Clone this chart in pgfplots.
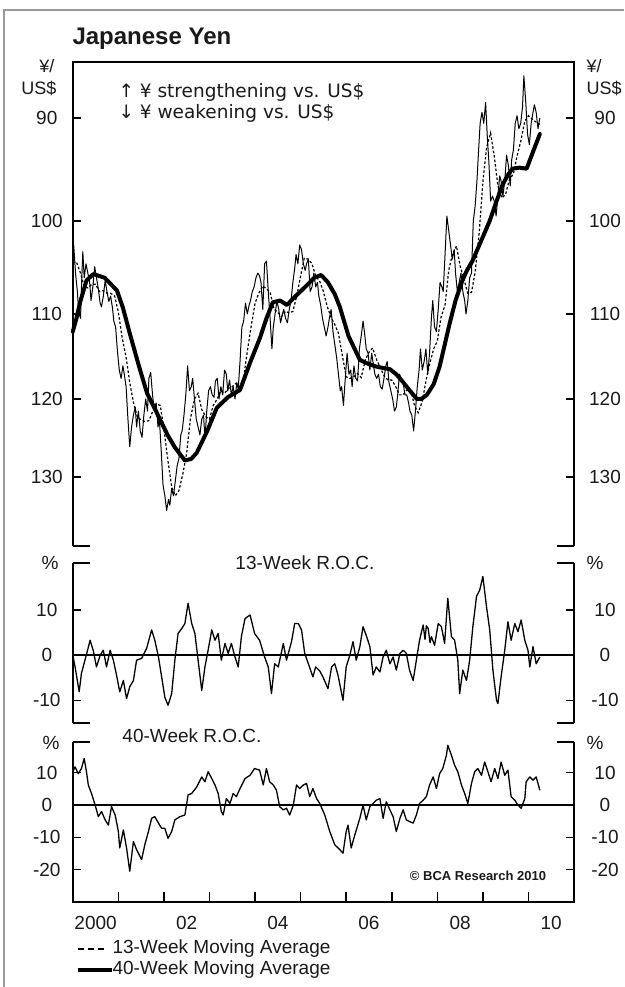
\documentclass[border=0pt]{standalone}
\usepackage{pgfplots}
\usepackage{pgfplotstable}
\pgfplotsset{compat=1.18}
\usepackage{fontspec}
\setmainfont{Liberation Sans}
\newfontfamily\dejavu{DejaVu Sans}
\newcommand{\lab}{\fontsize{19}{19}\selectfont}
\definecolor{txt}{HTML}{1A1A1A}
\tikzset{fr/.style={line width=1.6pt, black}}

\pgfplotstableread{
x y
2000.00 105.0
2000.02 102.5
2000.06 105.5
2000.10 107.5
2000.13 109.8
2000.17 110.5
2000.19 107.0
2000.22 103.2
2000.25 106.0
2000.29 104.5
2000.33 105.5
2000.37 106.5
2000.40 108.5
2000.44 107.0
2000.48 104.8
2000.52 106.0
2000.56 107.2
2000.60 108.8
2000.63 109.2
2000.67 108.0
2000.71 106.3
2000.75 107.5
2000.79 108.6
2000.83 108.0
2000.87 109.3
2000.90 110.8
2000.94 111.5
2000.98 114.3
2001.02 116.5
2001.06 117.5
2001.10 116.0
2001.13 117.0
2001.17 118.5
2001.21 122.5
2001.25 126.0
2001.29 123.5
2001.33 122.0
2001.37 121.0
2001.40 123.5
2001.44 121.5
2001.48 124.0
2001.52 124.8
2001.56 122.0
2001.60 120.0
2001.64 121.5
2001.67 117.5
2001.71 116.8
2001.75 119.5
2001.79 121.5
2001.83 120.5
2001.87 123.5
2001.90 122.5
2001.94 126.5
2001.98 131.0
2002.02 132.5
2002.06 134.5
2002.10 133.0
2002.13 133.8
2002.17 131.5
2002.21 132.5
2002.25 130.5
2002.29 128.5
2002.33 127.5
2002.37 124.5
2002.40 124.0
2002.44 122.0
2002.48 119.5
2002.52 116.0
2002.56 119.0
2002.60 118.5
2002.63 117.5
2002.67 120.0
2002.71 122.5
2002.75 123.5
2002.79 124.5
2002.83 122.5
2002.87 122.0
2002.90 125.0
2002.94 121.5
2002.98 119.0
2003.02 118.5
2003.06 119.5
2003.10 119.8
2003.13 117.8
2003.17 117.5
2003.21 120.0
2003.25 118.5
2003.29 119.5
2003.33 116.5
2003.37 117.0
2003.40 119.0
2003.44 117.7
2003.48 119.5
2003.52 118.5
2003.56 120.0
2003.60 118.0
2003.63 118.8
2003.67 115.5
2003.71 111.5
2003.75 110.8
2003.79 108.8
2003.83 110.0
2003.87 109.0
2003.90 108.5
2003.94 107.5
2003.98 107.0
2004.02 106.0
2004.06 105.5
2004.10 105.8
2004.13 106.5
2004.17 109.5
2004.21 104.5
2004.25 104.2
2004.29 107.5
2004.33 110.5
2004.37 114.0
2004.40 111.5
2004.44 110.0
2004.48 108.5
2004.52 109.5
2004.56 111.0
2004.60 110.0
2004.63 109.5
2004.67 110.5
2004.71 111.0
2004.75 109.5
2004.79 108.5
2004.83 106.5
2004.87 105.0
2004.90 103.5
2004.94 104.5
2004.98 102.5
2005.02 103.0
2005.06 104.5
2005.10 105.2
2005.13 104.5
2005.17 104.0
2005.21 107.5
2005.25 107.0
2005.29 105.5
2005.33 107.0
2005.37 106.5
2005.40 108.0
2005.44 109.0
2005.48 110.5
2005.52 111.5
2005.56 112.5
2005.60 111.5
2005.63 110.5
2005.67 109.5
2005.71 112.0
2005.75 113.5
2005.79 115.0
2005.83 117.0
2005.87 119.0
2005.90 118.5
2005.94 120.8
2005.98 117.5
2006.02 114.5
2006.06 117.0
2006.10 116.5
2006.13 118.5
2006.17 116.0
2006.21 117.5
2006.25 117.8
2006.29 114.0
2006.33 112.5
2006.37 110.8
2006.40 112.0
2006.44 114.0
2006.48 114.5
2006.52 116.5
2006.56 114.5
2006.60 116.0
2006.63 117.0
2006.67 117.5
2006.71 117.0
2006.75 118.5
2006.79 118.8
2006.83 117.5
2006.87 116.0
2006.90 115.5
2006.94 118.0
2006.98 119.0
2007.02 120.0
2007.06 121.5
2007.10 121.0
2007.13 119.5
2007.17 117.0
2007.21 117.5
2007.25 118.0
2007.29 119.5
2007.33 119.5
2007.37 120.5
2007.40 121.5
2007.44 122.0
2007.48 124.0
2007.52 121.5
2007.56 118.5
2007.60 116.5
2007.63 114.0
2007.67 116.5
2007.71 115.5
2007.75 114.0
2007.79 117.0
2007.83 114.5
2007.87 110.5
2007.90 108.5
2007.94 111.5
2007.98 112.0
2008.02 109.5
2008.06 106.5
2008.10 107.0
2008.13 107.5
2008.17 103.5
2008.21 99.5
2008.25 101.0
2008.29 102.5
2008.33 104.0
2008.37 103.0
2008.40 105.5
2008.44 107.5
2008.48 106.5
2008.52 105.5
2008.56 107.5
2008.60 108.5
2008.63 110.0
2008.67 108.5
2008.71 106.0
2008.75 105.5
2008.79 100.0
2008.83 98.5
2008.87 96.0
2008.90 93.5
2008.94 90.5
2008.98 89.5
2009.02 90.5
2009.06 88.6
2009.10 92.0
2009.13 94.0
2009.17 98.0
2009.21 97.5
2009.25 98.0
2009.29 99.5
2009.33 97.5
2009.37 95.5
2009.40 96.0
2009.44 97.5
2009.48 96.0
2009.52 93.5
2009.56 94.5
2009.60 96.5
2009.63 94.0
2009.67 93.0
2009.71 90.5
2009.75 89.8
2009.79 91.0
2009.83 90.5
2009.87 89.0
2009.90 86.2
2009.94 88.5
2009.98 91.5
2010.02 92.5
2010.06 90.5
2010.10 89.5
2010.13 88.8
2010.17 89.5
2010.21 91.0
2010.25 90.0
}\spot

\pgfplotstableread{
x y
2000.00 104.4
2000.08 104.3
2000.17 105.5
2000.25 107.0
2000.33 107.1
2000.42 106.7
2000.50 106.7
2000.58 107.5
2000.67 107.4
2000.75 107.7
2000.83 107.7
2000.92 108.0
2001.00 109.8
2001.08 112.6
2001.17 115.0
2001.25 118.0
2001.33 120.4
2001.42 122.3
2001.50 122.6
2001.58 122.8
2001.67 122.7
2001.75 121.6
2001.83 120.6
2001.92 120.8
2002.00 123.7
2002.08 127.5
2002.17 131.3
2002.25 132.5
2002.33 131.8
2002.42 129.4
2002.50 126.8
2002.58 122.5
2002.67 120.0
2002.75 119.3
2002.83 121.3
2002.92 122.2
2003.00 122.5
2003.08 120.8
2003.17 120.0
2003.25 119.0
2003.33 119.3
2003.42 118.7
2003.50 118.5
2003.58 118.1
2003.67 118.6
2003.75 117.4
2003.83 114.3
2003.92 111.2
2004.00 108.8
2004.08 107.7
2004.17 106.9
2004.25 107.2
2004.33 107.6
2004.42 109.5
2004.50 109.8
2004.58 110.3
2004.67 109.7
2004.75 109.9
2004.83 109.7
2004.92 107.9
2005.00 105.8
2005.08 103.9
2005.17 104.0
2005.25 104.5
2005.33 105.8
2005.42 106.4
2005.50 107.5
2005.58 109.1
2005.67 110.4
2005.75 111.2
2005.83 112.2
2005.92 114.9
2006.00 117.3
2006.08 117.5
2006.17 117.3
2006.25 116.9
2006.33 117.4
2006.42 115.3
2006.50 114.4
2006.58 113.9
2006.67 115.3
2006.75 116.2
2006.83 117.2
2006.92 117.7
2007.00 117.7
2007.08 118.4
2007.17 119.5
2007.25 119.5
2007.33 118.9
2007.42 119.0
2007.50 120.8
2007.58 121.7
2007.67 120.3
2007.75 117.8
2007.83 115.8
2007.92 114.0
2008.00 113.1
2008.08 110.4
2008.17 109.0
2008.25 105.2
2008.33 103.5
2008.42 102.6
2008.50 104.7
2008.58 106.1
2008.67 107.7
2008.75 107.6
2008.83 105.4
2008.92 101.2
2009.00 96.1
2009.08 92.8
2009.17 91.4
2009.25 93.6
2009.33 96.5
2009.42 97.7
2009.50 97.3
2009.58 95.9
2009.67 95.3
2009.75 93.6
2009.83 92.2
2009.92 90.3
2010.00 89.8
2010.08 90.1
2010.17 90.4
2010.25 90.6
}\maa

\pgfplotstableread{
x y
2000.00 112.0
2000.08 110.5
2000.16 108.7
2000.30 106.3
2000.45 105.6
2000.70 106.0
2000.97 107.4
2001.10 109.3
2001.25 112.2
2001.45 116.0
2001.63 119.3
2001.80 121.2
2001.91 122.5
2002.08 124.5
2002.24 126.1
2002.46 127.8
2002.60 127.6
2002.72 126.8
2002.95 124.0
2003.16 121.1
2003.40 119.8
2003.67 118.9
2003.90 115.5
2004.11 112.7
2004.25 110.5
2004.39 108.7
2004.55 108.5
2004.70 109.0
2004.85 108.2
2005.10 107.0
2005.30 106.0
2005.45 105.7
2005.60 106.5
2005.75 107.8
2005.86 109.2
2006.05 112.5
2006.30 115.3
2006.50 115.8
2006.67 116.1
2006.85 116.3
2006.96 116.4
2007.10 117.0
2007.24 117.9
2007.40 119.0
2007.55 120.0
2007.65 120.0
2007.77 119.5
2007.92 118.2
2008.05 116.1
2008.15 113.8
2008.27 111.1
2008.40 108.5
2008.55 106.3
2008.65 105.2
2008.77 104.2
2008.95 102.2
2009.15 100.0
2009.30 98.0
2009.43 96.4
2009.55 95.4
2009.65 94.8
2009.80 94.7
2009.96 94.8
2010.09 93.3
2010.25 91.5
}\mab

\pgfplotstableread{
x y
2000.00 0
2000.05 -2.6
2000.14 -8.1
2000.19 -4
2000.27 -1
2000.38 3.3
2000.45 1
2000.52 -2.6
2000.60 0
2000.67 1.1
2000.74 -2.6
2000.82 1.1
2000.89 -1.1
2000.96 -4.4
2001.03 -8.1
2001.11 -5.6
2001.18 -9.6
2001.25 -7
2001.33 -5.6
2001.40 -1.1
2001.51 -0.7
2001.62 1.5
2001.73 5.6
2001.80 3.3
2001.88 -0.4
2001.95 -4.8
2002.02 -9.3
2002.09 -11.1
2002.17 -8.5
2002.24 -1.1
2002.31 4.8
2002.39 5.9
2002.46 7
2002.53 11.5
2002.61 7
2002.68 4.8
2002.75 -1.1
2002.83 -7.8
2002.90 -2.6
2002.97 1.1
2003.05 5.6
2003.12 3.3
2003.19 4.8
2003.26 -1.1
2003.34 2.6
2003.41 0.4
2003.48 2.6
2003.56 -0.4
2003.63 -2.6
2003.70 4.1
2003.78 8.1
2003.89 8.9
2003.99 4.8
2004.10 3.3
2004.21 -0.4
2004.29 -2.6
2004.36 -8.5
2004.43 -1.9
2004.51 -2.6
2004.62 2.6
2004.69 -1.1
2004.80 3
2004.87 7
2004.95 7
2005.02 5.6
2005.09 0.4
2005.17 -1.9
2005.27 -4.8
2005.33 -2.6
2005.42 -3.5
2005.49 -4.8
2005.60 -7.4
2005.68 -2.6
2005.75 -1.9
2005.82 -4.4
2005.93 -10
2006.00 -2.6
2006.08 0
2006.15 3
2006.22 -1.1
2006.30 1.9
2006.37 6.3
2006.44 4.4
2006.52 1.9
2006.59 -4.4
2006.66 -2.6
2006.74 -3.7
2006.81 -0.4
2006.88 1.1
2006.96 -1.9
2007.03 -0.4
2007.10 -3.3
2007.18 0.4
2007.25 1.1
2007.32 0.4
2007.39 -3.3
2007.47 -5.6
2007.54 -1.1
2007.61 3.3
2007.69 6.7
2007.73 3.5
2007.76 6.5
2007.80 5.9
2007.84 2.8
2007.87 4.1
2007.94 2.2
2008.02 7
2008.09 6.3
2008.16 2.6
2008.23 12.6
2008.31 4.1
2008.38 3.3
2008.45 -1.1
2008.49 -8.5
2008.56 -3.3
2008.64 -5.6
2008.71 -1.1
2008.78 6.3
2008.86 13
2008.93 14.4
2009.00 17.4
2009.08 10.7
2009.15 5.6
2009.22 -3.3
2009.30 -10
2009.33 -10.7
2009.40 -4.8
2009.48 1.1
2009.55 7.4
2009.62 3.3
2009.70 7
2009.77 5.2
2009.84 7.8
2009.92 3.3
2009.99 1.1
2010.03 -2.6
2010.10 1.9
2010.17 -1.9
2010.25 -0.4
}\roca

\pgfplotstableread{
x y
2000.00 10.3
2000.05 11.8
2000.12 9.7
2000.19 11.3
2000.25 14.4
2000.30 10.3
2000.34 6.2
2000.41 3.6
2000.49 0
2000.56 -3.6
2000.63 -2
2000.71 -4.6
2000.78 -6.2
2000.85 -0.5
2000.93 -3.1
2001.00 -8.2
2001.03 -13.3
2001.11 -7.7
2001.18 -13.3
2001.25 -20.5
2001.33 -11.3
2001.40 -13.8
2001.51 -16.9
2001.58 -12.3
2001.66 -8.2
2001.73 -4.1
2001.80 -3.6
2001.88 -5.6
2001.95 -7.2
2002.02 -7.2
2002.09 -10.3
2002.17 -8.2
2002.24 -4.6
2002.35 -3.6
2002.46 -3.1
2002.53 3.1
2002.61 3.6
2002.72 5.6
2002.83 8.7
2002.90 7.2
2002.97 10.3
2003.05 8.2
2003.12 6.2
2003.19 3.6
2003.26 -2
2003.30 -3.1
2003.37 2
2003.45 0.5
2003.52 3.6
2003.59 2.6
2003.67 5.1
2003.78 8.2
2003.89 9.2
2003.99 11.3
2004.10 10.8
2004.18 6.2
2004.25 11.3
2004.32 7.2
2004.40 6.2
2004.47 4.6
2004.54 -0.5
2004.62 -1.5
2004.69 -1
2004.76 -3.1
2004.84 0
2004.91 6.2
2004.98 5.1
2005.06 6.2
2005.13 6.7
2005.20 2.6
2005.27 5.1
2005.35 2
2005.42 0.5
2005.53 -3.1
2005.64 -8.2
2005.75 -12.3
2005.86 -13.8
2005.93 -14.9
2006.00 -8.2
2006.04 -6.2
2006.11 -13.3
2006.19 -9.2
2006.30 -4.1
2006.37 0
2006.44 -4.6
2006.52 -0.5
2006.59 0.5
2006.66 1.5
2006.74 2
2006.81 -4.1
2006.88 1
2006.96 -1.5
2007.03 -3.6
2007.10 -8.2
2007.18 -4.1
2007.25 -1.5
2007.32 -4.6
2007.39 -5.1
2007.47 -5.6
2007.54 -3.1
2007.61 0.5
2007.69 1.5
2007.76 2.6
2007.83 6.2
2007.91 8.7
2007.98 5.1
2008.05 9.7
2008.12 11.3
2008.20 15.4
2008.23 18.5
2008.31 15.4
2008.38 12.3
2008.45 10.3
2008.53 6.2
2008.60 3.6
2008.67 0.5
2008.75 6.7
2008.82 10.3
2008.89 11.3
2008.97 9.2
2009.04 13.3
2009.11 10.3
2009.18 7.2
2009.26 11.3
2009.33 8.2
2009.40 13.3
2009.48 9.2
2009.55 10.8
2009.62 2.6
2009.70 1.5
2009.77 0
2009.84 -1
2009.92 2
2009.95 7.2
2010.03 8.7
2010.10 7.7
2010.17 8.7
2010.25 4.6
}\rocb

\pgfplotsset{
  panel/.style={
    scale only axis, width=501.2pt,
    xmin=2000, xmax=2011,
    axis line style={draw=none},
    tick align=inside,
    major tick length=8pt,
    minor tick length=10pt,
    tick style={line width=1.5pt, black},
    xtick=\empty,
    clip=false,
  },
  leftlab/.style={yticklabel style={font=\lab, text=txt, anchor=center, xshift=-26pt}},
  rightlab/.style={panel, yticklabel pos=right, tick style={draw=none},
     yticklabel style={font=\lab, text=txt, anchor=center, xshift=31pt}},
}

\begin{document}
\begin{tikzpicture}
\path[use as bounding box, fill=white] (0pt,0pt) rectangle (624pt,987pt);
\draw[black!40, line width=2pt] (4pt,0pt) -- (4pt,977pt) -- (624pt,977pt);

% ---------- top panel ----------
\begin{axis}[panel, leftlab, at={(72.8pt,441pt)}, anchor=south west, height=484pt,
  ymode=log, ymin=85, ymax=139.5, y dir=reverse,
  ytick={90,100,110,120,130}, yticklabels={90,100,110,120,130}]
\addplot[black, line width=1pt, line join=round] table {\spot};
\addplot[black, line width=1.2pt, dash pattern=on 2.5pt off 2pt] table {\maa};
\addplot[black, line width=4pt, line join=round, line cap=round] table {\mab};
\draw[fr] (axis description cs:0,0) -- (axis description cs:0,1) -- (axis description cs:1,1) -- (axis description cs:1,0);
\draw[fr] (axis description cs:0,0) -- ++(17pt,0pt);
\draw[fr] (axis description cs:1,0) -- ++(-17pt,0pt);
\end{axis}
\begin{axis}[rightlab, at={(72.8pt,441pt)}, anchor=south west, height=484pt,
  ymode=log, ymin=85, ymax=139.5, y dir=reverse,
  ytick={90,100,110,120,130}, yticklabels={90,100,110,120,130}]
\end{axis}

% ---------- middle panel ----------
\begin{axis}[panel, leftlab, at={(72.8pt,264pt)}, anchor=south west, height=160pt,
  ymin=-15, ymax=20.4, ytick={-10,0,10}, yticklabels={-10,0,10}]
\addplot[black, line width=1.6pt] coordinates {(2000,0) (2011,0)};
\addplot[black, line width=1.3pt, line join=round] table {\roca};
\draw[fr] (axis description cs:0,0) -- (axis description cs:0,1);
\draw[fr] (axis description cs:1,0) -- (axis description cs:1,1);
\draw[fr] (axis description cs:0,0) -- ++(17pt,0pt);
\draw[fr] (axis description cs:1,0) -- ++(-17pt,0pt);
\draw[fr] (axis description cs:0,1) -- ++(17pt,0pt);
\draw[fr] (axis description cs:1,1) -- ++(-17pt,0pt);
\end{axis}
\begin{axis}[rightlab, at={(72.8pt,264pt)}, anchor=south west, height=160pt,
  ymin=-15, ymax=20.4, ytick={-10,0,10}, yticklabels={-10,0,10}]
\end{axis}

% ---------- bottom panel ----------
\begin{axis}[panel, leftlab, at={(72.8pt,85pt)}, anchor=south west, height=160pt,
  ymin=-30, ymax=19.5, ytick={-20,-10,0,10}, yticklabels={-20,-10,0,10},
  xtick={2000.5,2002.5,2004.5,2006.5,2008.5,2010.5},
  xticklabels={2000,02,04,06,08,10},
  major x tick style={draw=none},
  minor xtick={2001,2002,2003,2004,2005,2006,2007,2008,2009,2010},
  xtick pos=left,
  xticklabel style={font=\lab, text=txt, yshift=-11pt}]
\addplot[black, line width=1.6pt] coordinates {(2000,0) (2011,0)};
\addplot[black, line width=1.3pt, line join=round] table {\rocb};
\draw[fr] (axis description cs:0,1) -- (axis description cs:0,0) -- (axis description cs:1,0) -- (axis description cs:1,1);
\draw[fr] (axis description cs:0,1) -- ++(17pt,0pt);
\draw[fr] (axis description cs:1,1) -- ++(-17pt,0pt);
\end{axis}
\begin{axis}[rightlab, at={(72.8pt,85pt)}, anchor=south west, height=160pt,
  ymin=-30, ymax=19.5, ytick={-20,-10,0,10}, yticklabels={-20,-10,0,10}]
\end{axis}

% ---------- texts ----------
\node[anchor=west, text=txt, font=\bfseries\fontsize{24}{24}\selectfont] at (69pt,948pt) {Japanese Yen};
\node[anchor=east, text=txt, font=\fontsize{18}{18}\selectfont] at (58pt,921pt) {¥/};
\node[anchor=east, text=txt, font=\fontsize{18}{18}\selectfont] at (60pt,899pt) {US\$};
\node[anchor=west, text=txt, font=\fontsize{18}{18}\selectfont] at (583pt,921pt) {¥/};
\node[anchor=west, text=txt, font=\fontsize{18}{18}\selectfont] at (583pt,899pt) {US\$};
\node[anchor=west, text=txt, font=\dejavu\fontsize{18.5}{18.5}\selectfont] at (115pt,895pt) {↑ ¥ strengthening vs. US\$};
\node[anchor=west, text=txt, font=\dejavu\fontsize{18.5}{18.5}\selectfont] at (115pt,874pt) {↓ ¥ weakening vs. US\$};
\node[text=txt, font=\lab] at (305pt,424pt) {13-Week R.O.C.};
\node[text=txt, font=\lab] at (50pt,424pt) {\%};
\node[text=txt, font=\lab] at (595pt,424pt) {\%};
\node[text=txt, font=\lab] at (192pt,251pt) {40-Week R.O.C.};
\node[text=txt, font=\lab] at (51pt,244pt) {\%};
\node[text=txt, font=\lab] at (595pt,244pt) {\%};
\node[text=txt, font=\bfseries\fontsize{13}{13}\selectfont] at (478pt,111pt) {© BCA Research 2010};
\draw[black, line width=1.5pt, dash pattern=on 6pt off 4pt] (78pt,38pt) -- (106pt,38pt);
\node[anchor=west, text=txt, font=\lab] at (109pt,38pt) {13-Week Moving Average};
\draw[black, line width=4pt] (78pt,17pt) -- (112pt,17pt);
\node[anchor=west, text=txt, font=\lab] at (109pt,17pt) {40-Week Moving Average};
\end{tikzpicture}
\end{document}
